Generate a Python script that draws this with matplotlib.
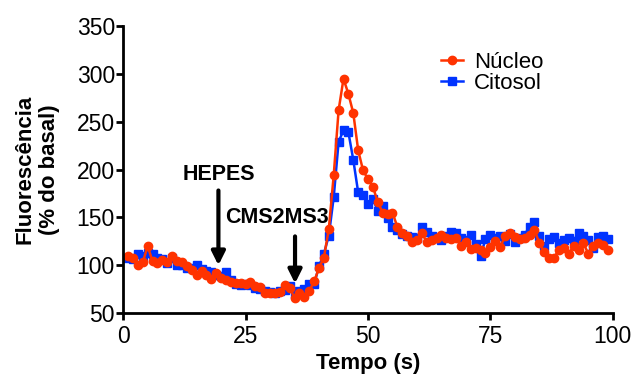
import numpy as np
import matplotlib.pyplot as plt

plt.rcParams['font.family'] = ['Liberation Sans', 'DejaVu Sans']

# tempo (s)
tempo = np.arange(1, 100)

nucleo = [110, 107, 100, 103, 120, 104, 102, 105, 103, 110,
          104, 103, 99, 95, 90, 94, 90, 86, 92, 87,
          85, 82, 81, 81, 80, 82, 78, 77, 71, 71,
          71, 72, 79, 76, 66, 71, 67, 73, 83, 97,
          108, 138, 194, 262, 295, 279, 259, 220, 199, 190,
          182, 166, 155, 154, 155, 140, 134, 130, 124, 126,
          134, 124, 126, 128, 132, 128, 127, 128, 120, 124,
          117, 118, 116, 113, 119, 125, 119, 130, 134, 129,
          127, 128, 132, 137, 123, 114, 108, 108, 116, 118,
          112, 120, 116, 123, 112, 120, 123, 121, 116]

citosol = [108, 106, 112, 110, 113, 112, 108, 106, 102, 108,
           100, 100, 97, 97, 100, 96, 94, 93, 90, 89,
           93, 85, 80, 79, 80, 79, 76, 75, 73, 72,
           71, 73, 74, 78, 70, 73, 75, 80, 80, 99,
           112, 131, 171, 229, 241, 239, 210, 176, 173, 164,
           169, 157, 162, 149, 140, 137, 133, 131, 129, 128,
           140, 135, 130, 128, 126, 130, 135, 134, 128, 126,
           132, 122, 110, 127, 132, 128, 130, 125, 133, 124,
           128, 132, 140, 145, 130, 120, 127, 129, 123, 126,
           128, 125, 134, 131, 126, 118, 129, 131, 127]

fig = plt.figure(figsize=(6.35, 3.78), dpi=100)
ax = fig.add_axes([0.194, 0.172, 0.771, 0.759])

ax.plot(tempo, citosol, color='#0033ff', marker='s', markersize=5.5, lw=1.8, label='Citosol')
ax.plot(tempo, nucleo, color='#ff3300', marker='o', markersize=6, lw=1.8, label='Núcleo')

ax.set_xlim(0, 100)
ax.set_ylim(50, 350)
ax.set_xticks([0, 25, 50, 75, 100])
ax.set_yticks(range(50, 351, 50))
for s in ['top', 'right']:
    ax.spines[s].set_visible(False)
for s in ['left', 'bottom']:
    ax.spines[s].set_linewidth(2)
ax.tick_params(width=2, length=5, labelsize=16.5, pad=1)
ax.tick_params(axis='x', pad=4)

ax.set_xlabel('Tempo (s)', fontsize=16, fontweight='bold', labelpad=3)
ax.set_ylabel('Fluorescência\n(% do basal)', fontsize=16, fontweight='bold', labelpad=12,
              linespacing=1.2)

# setas
ax.annotate('', xy=(19.45, 97), xytext=(19.45, 181),
            arrowprops=dict(arrowstyle='-|>', color='black', lw=3, mutation_scale=20))
ax.text(19.6, 195, 'HEPES', fontsize=15.5, fontweight='bold', ha='center', va='center')
ax.annotate('', xy=(35.1, 78), xytext=(35.1, 133),
            arrowprops=dict(arrowstyle='-|>', color='black', lw=3, mutation_scale=20))
ax.text(31.4, 150, 'CMS2MS3', fontsize=15.5, fontweight='bold', ha='center', va='center')

h, l = ax.get_legend_handles_labels()
ax.legend(h[::-1], l[::-1], loc='upper left', bbox_to_anchor=(0.694, 0.862),
          bbox_transform=fig.transFigure, frameon=False, borderpad=0, borderaxespad=0,
          fontsize=16, handlelength=1.0, handletextpad=0.5, labelspacing=0.0)

fig.savefig('out.png', dpi=100)
